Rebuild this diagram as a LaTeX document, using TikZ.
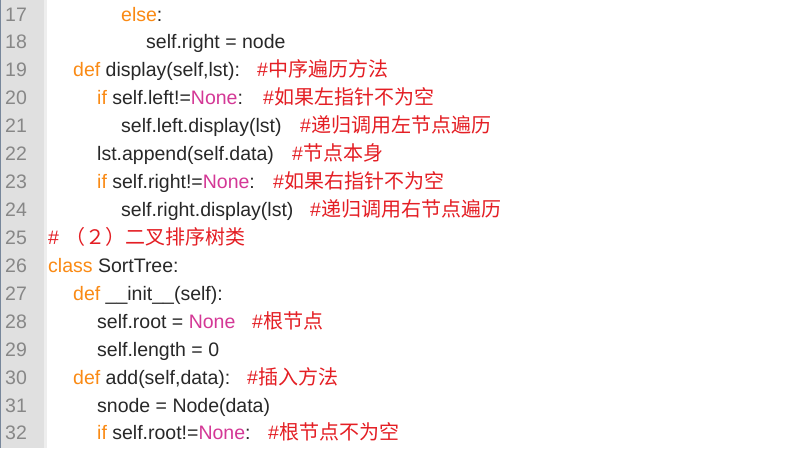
\documentclass[tikz,border=0pt]{standalone}
\usepackage{fontspec}
\setmainfont{Liberation Sans}
\newfontfamily\cjk{Noto Sans CJK SC}
\definecolor{kwc}{RGB}{250,138,20}
\definecolor{nnc}{RGB}{212,56,150}
\definecolor{cmc}{RGB}{228,30,36}
\definecolor{txc}{RGB}{40,40,40}
\definecolor{lnc}{RGB}{135,135,135}
\definecolor{gutc}{RGB}{224,224,224}
\definecolor{gutl}{RGB}{238,238,238}
\definecolor{edgec}{RGB}{120,135,155}
\newcommand{\kwd}[1]{\textcolor{kwc}{#1}}
\newcommand{\nnn}[1]{\textcolor{nnc}{#1}}
\tikzset{
  code/.style={anchor=base west, inner sep=0pt, text=txc, font=\fontsize{19.5}{20}\selectfont},
  cmt/.style={anchor=base west, inner sep=0pt, text=cmc, font=\fontsize{19.5}{20}\selectfont},
  lnum/.style={anchor=base west, inner sep=0pt, text=lnc, font=\fontsize{19.5}{20}\selectfont},
}
\newcommand{\cz}[1]{{\cjk\fontsize{20}{20}\selectfont #1}}
\begin{document}
\begin{tikzpicture}[x=1pt,y=-1pt]
\useasboundingbox (0,0) rectangle (805,448);
\fill[white] (0,0) rectangle (805,448);
\fill[gutc] (0,0) rectangle (44,448);
\fill[gutl] (44,0) rectangle (47,448);
\fill[edgec] (0,0) rectangle (1.2,448);
% line numbers
\foreach \n [count=\i from 0] in {17,...,32} {
  \node[lnum] (ln\n) at (5,{21+27.93*\i}) {\n};
}
% code lines
\node[code] (c17) at (121,21.00) {\kwd{else}:};
\node[code] (c18) at (146,48.93) {self.right = node};
\node[code] (c19) at (73,76.86) {\kwd{def} display(self,lst):};
\node[cmt]  (m19) at (257,76.86) {\#\cz{中序遍历方法}};
\node[code] (c20) at (97,104.79) {\kwd{if} self.left!=\nnn{None}:};
\node[cmt]  (m20) at (263,104.79) {\#\cz{如果左指针不为空}};
\node[code] (c21) at (121,132.72) {self.left.display(lst)};
\node[cmt]  (m21) at (300,132.72) {\#\cz{递归调用左节点遍历}};
\node[code] (c22) at (97,160.65) {lst.append(self.data)};
\node[cmt]  (m22) at (292,160.65) {\#\cz{节点本身}};
\node[code] (c23) at (97,188.58) {\kwd{if} self.right!=\nnn{None}:};
\node[cmt]  (m23) at (273,188.58) {\#\cz{如果右指针不为空}};
\node[code] (c24) at (121,216.51) {self.right.display(lst)};
\node[cmt]  (m24) at (310,216.51) {\#\cz{递归调用右节点遍历}};
\node[cmt]  (m25) at (48,244.44) {\#\hspace{6pt}\cz{（２）二叉排序树类}};
\node[code] (c26) at (48,272.37) {\kwd{class} SortTree:};
\node[code] (c27) at (73,300.30) {\kwd{def} \_\_init\_\_(self):};
\node[code] (c28) at (97,328.23) {self.root = \nnn{None}};
\node[cmt]  (m28) at (252,328.23) {\#\cz{根节点}};
\node[code] (c29) at (97,356.16) {self.length = 0};
\node[code] (c30) at (73,384.09) {\kwd{def} add(self,data):};
\node[cmt]  (m30) at (247,384.09) {\#\cz{插入方法}};
\node[code] (c31) at (97,412.02) {snode = Node(data)};
\node[code] (c32) at (97,439.95) {\kwd{if} self.root!=\nnn{None}:};
\node[cmt]  (m32) at (268,439.95) {\#\cz{根节点不为空}};
\end{tikzpicture}
\end{document}
